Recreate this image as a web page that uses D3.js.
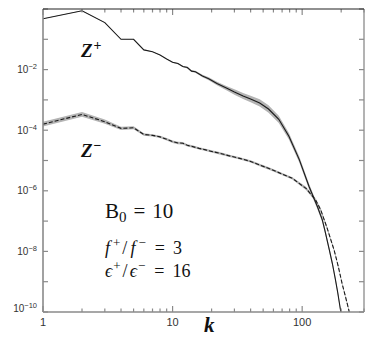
<!DOCTYPE html>
<html><head><meta charset="utf-8">
<script src="https://cdn.jsdelivr.net/npm/d3@7"></script>
<style>
html,body{margin:0;padding:0;background:#fff;}
svg{display:block;}
text{white-space:pre;}
</style></head>
<body>
<script>
// wavenumbers and log10 spectra
const kPlus = [1,2,3,4,5,6,7,8,9,10,11,12,13,14,15,17,19,22,26,30,35,40,47,55,66,79,95,113,131,143,150,162,171,180,188,197,205];
const logPlus = [-0.32,-0.06,-0.45,-1.00,-1.00,-1.35,-1.41,-1.52,-1.65,-1.76,-1.80,-1.90,-1.93,-2.05,-2.07,-2.21,-2.30,-2.46,-2.61,-2.74,-2.87,-2.97,-3.10,-3.30,-3.64,-4.20,-4.97,-5.86,-6.52,-6.96,-7.32,-7.95,-8.40,-8.90,-9.35,-9.90,-10.3];
const bandPlus = [0.01,0.01,0.01,0.01,0.01,0.01,0.01,0.01,0.01,0.02,0.02,0.02,0.03,0.03,0.03,0.04,0.05,0.06,0.07,0.09,0.10,0.11,0.12,0.12,0.12,0.11,0.10,0.09,0.08,0.08,0.08,0.08,0.08,0.08,0.08,0.08,0.08];

const kMinus = [1,2,3,4,5,6,7,8,9,10,11,12,13,14,16,18,20,23,27,33,40,47,56,66,84,107,127,139,155,177,190,203,216,229,235];
const logMinus = [-3.80,-3.48,-3.72,-3.94,-3.92,-4.14,-4.17,-4.22,-4.30,-4.38,-4.42,-4.43,-4.50,-4.53,-4.60,-4.65,-4.70,-4.76,-4.84,-4.93,-5.03,-5.15,-5.27,-5.40,-5.59,-5.92,-6.30,-6.63,-7.20,-7.98,-8.50,-9.05,-9.50,-9.93,-10.2];
const bandMinus = [0.08,0.08,0.07,0.05,0.05,0.04,0.04,0.04,0.04,0.04,0.04,0.04,0.04,0.04,0.04,0.04,0.04,0.04,0.04,0.04,0.04,0.04,0.04,0.04,0.04,0.05,0.05,0.05,0.05,0.05,0.05,0.05,0.05,0.05,0.05];

const xDomain = [1, 300];
const yDomain = [1e-10, 1];
const xLabelTicks = [1, 10, 100];
const yLabelExps = [-2, -4, -6, -8, -10];

const W = 374, H = 349;
const M = {left: 43, right: 364, top: 9, bottom: 312};

const svg = d3.select("body").append("svg").attr("width", W).attr("height", H);
const x = d3.scaleLog().domain(xDomain).range([M.left, M.right]);
const y = d3.scaleLog().domain(yDomain).range([M.bottom, M.top]);

svg.append("clipPath").attr("id","clip").append("rect")
  .attr("x", M.left).attr("y", M.top).attr("width", M.right-M.left).attr("height", M.bottom-M.top);

const g = svg.append("g").attr("clip-path","url(#clip)");

function series(ks, ls, bs){ return ks.map((k,i)=>({k, v: ls[i], w: bs[i]})); }
const sp = series(kPlus, logPlus, bandPlus);
const sm = series(kMinus, logMinus, bandMinus);

const area = d3.area().x(d=>x(d.k)).y0(d=>y(Math.pow(10,d.v-d.w))).y1(d=>y(Math.pow(10,d.v+d.w)));
const line = d3.line().x(d=>x(d.k)).y(d=>y(Math.pow(10,d.v)));

g.append("path").datum(sm).attr("d", area).attr("fill","#b4b4b4");
g.append("path").datum(sp).attr("d", area).attr("fill","#b4b4b4");
g.append("path").datum(sp).attr("d", line).attr("fill","none").attr("stroke","#1a1a1a").attr("stroke-width",1.1);
g.append("path").datum(sm).attr("d", line).attr("fill","none").attr("stroke","#1a1a1a").attr("stroke-width",1.1).attr("stroke-dasharray","4,2");

// axes
const axisCol = "#8a8a8a";
const xMinor = x.ticks().filter(t => t <= xDomain[1]);
const yTicksAll = d3.range(-10, 1).map(e => Math.pow(10, e));

const ax = svg.append("g");
const bottomAxis = d3.axisBottom(x).tickValues(xMinor).tickSize(0).tickFormat("");
ax.append("g").attr("transform",`translate(0,${M.bottom})`).call(bottomAxis).select(".domain").remove();

xMinor.forEach(t => {
  const major = Math.abs(Math.log10(t) - Math.round(Math.log10(t))) < 1e-9;
  const len = major ? 6 : 3.5;
  ax.append("line").attr("x1",x(t)).attr("x2",x(t)).attr("y1",M.bottom).attr("y2",M.bottom-len).attr("stroke",axisCol).attr("stroke-width",1.2);
  ax.append("line").attr("x1",x(t)).attr("x2",x(t)).attr("y1",M.top).attr("y2",M.top+len).attr("stroke",axisCol).attr("stroke-width",1.2);
});
yTicksAll.forEach(t => {
  ax.append("line").attr("x1",M.left).attr("x2",M.left+5).attr("y1",y(t)).attr("y2",y(t)).attr("stroke",axisCol).attr("stroke-width",1.2);
  ax.append("line").attr("x1",M.right).attr("x2",M.right-5).attr("y1",y(t)).attr("y2",y(t)).attr("stroke",axisCol).attr("stroke-width",1.2);
});
ax.append("line").attr("x1",M.left).attr("x2",M.left).attr("y1",M.top).attr("y2",M.bottom).attr("stroke",axisCol).attr("stroke-width",1.6);
ax.append("line").attr("x1",M.left).attr("x2",M.right).attr("y1",M.bottom).attr("y2",M.bottom).attr("stroke",axisCol).attr("stroke-width",1.6);
ax.append("line").attr("x1",M.right).attr("x2",M.right).attr("y1",M.top).attr("y2",M.bottom).attr("stroke",axisCol).attr("stroke-width",1.3);
ax.append("line").attr("x1",M.left).attr("x2",M.right).attr("y1",M.top).attr("y2",M.top).attr("stroke","#222").attr("stroke-width",1.1);

// tick labels
const lblFont = "'Liberation Sans', Arial, sans-serif";
xLabelTicks.forEach(t => {
  svg.append("text").attr("x", x(t)).attr("y", 326).attr("text-anchor","middle")
    .attr("font-family", lblFont).attr("font-size", 11).attr("fill","#333").text(String(t));
});
yLabelExps.forEach(e => {
  const base = Math.min(y(Math.pow(10,e)) + 3.5, 311.5);
  const t = svg.append("text").attr("x", 37).attr("y", base).attr("text-anchor","end")
    .attr("font-family", lblFont).attr("font-size", 10).attr("fill","#333");
  t.append("tspan").text("10");
  t.append("tspan").attr("dy",-4).attr("font-size",7.5).text("\u2212" + Math.abs(e));
});

// annotations
const serif = "'Liberation Serif', 'Times New Roman', serif";
function label(xp, yp, size, parts, opts={}) {
  const t = svg.append("text").attr("x", xp).attr("y", yp).attr("font-family", serif)
    .attr("font-size", size).attr("fill","#111");
  if (opts.bold) t.attr("font-weight","bold");
  parts.forEach(p => {
    const s = t.append("tspan").text(p.t);
    if (p.dy) s.attr("dy", p.dy);
    if (p.dx) s.attr("dx", p.dx);
    if (p.size) s.attr("font-size", p.size);
    if (p.it) s.attr("font-style","italic");
  });
  return t;
}
label(81, 57, 19, [{t:"Z", it:true},{t:"+", dy:-7, dx:1, size:14}], {bold:true});
label(81, 157, 19, [{t:"Z", it:true},{t:"\u2212", dy:-7, dx:1, size:14}], {bold:true});
label(204, 332, 21, [{t:"k", it:true}], {bold:true});

label(105, 218, 21, [{t:"B"},{t:"0", dy:4, size:15},{t:"=", dy:-4, dx:7},{t:"10", dx:7}]);
label(105, 254, 18, [{t:"f", it:true},{t:"+", dy:-7, dx:3, size:13},{t:"/", dy:7, dx:2},{t:"f", it:true, dx:3},{t:"\u2212", dy:-7, dx:3, size:13},{t:"=", dy:7, dx:9},{t:"3", dx:8}]);
label(105, 277, 18, [{t:"\u03f5", it:true},{t:"+", dy:-7, dx:1, size:13},{t:"/", dy:7, dx:2},{t:"\u03f5", it:true, dx:2},{t:"\u2212", dy:-7, dx:1, size:13},{t:"=", dy:7, dx:9},{t:"16", dx:8}]);
</script>
</body></html>
